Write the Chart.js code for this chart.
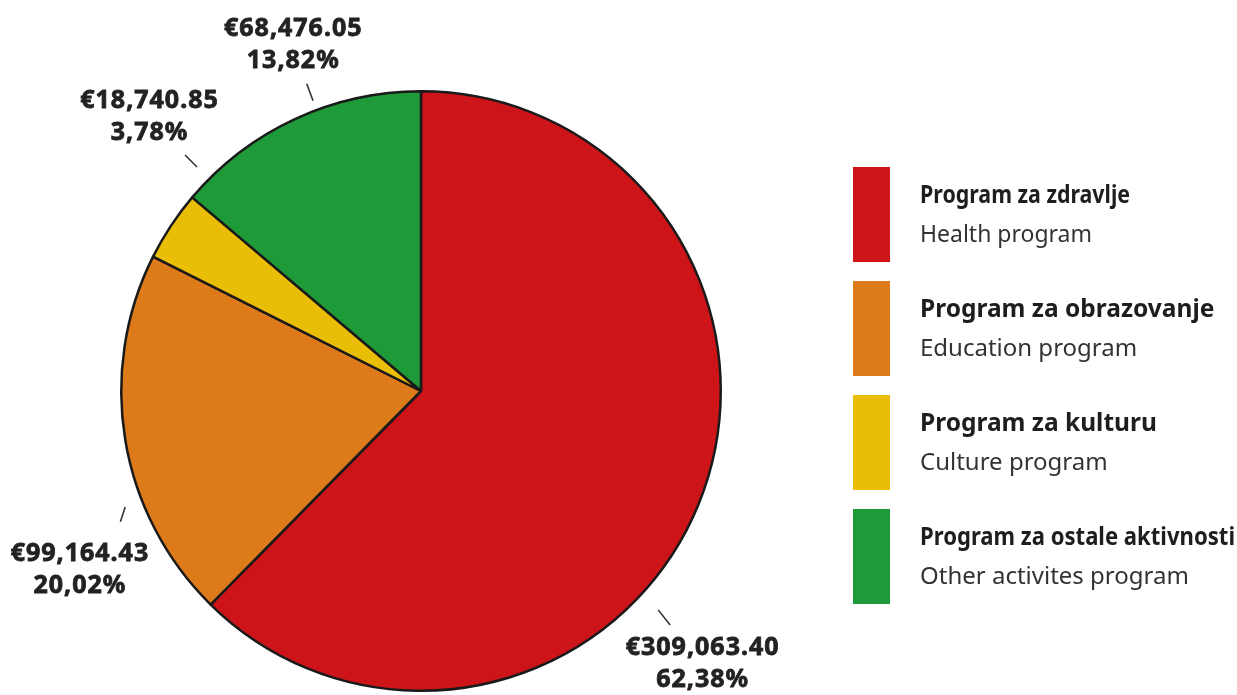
<!DOCTYPE html>
<html>
<head>
<meta charset="utf-8">
<script src="https://cdn.jsdelivr.net/npm/chart.js@4/dist/chart.umd.min.js"></script>
<style>
  html, body { margin: 0; padding: 0; background: #fff; }
  #programi { display: block; }
</style>
</head>
<body>
<canvas id="programi" width="1237" height="695"></canvas>
<script>
// Rashodi po programima (EUR)
const programi = ['Program za zdravlje', 'Program za obrazovanje', 'Program za kulturu', 'Program za ostale aktivnosti'];
const programiEn = ['Health program', 'Education program', 'Culture program', 'Other activites program'];
const iznosi = [309063.40, 99164.43, 18740.85, 68476.05];
const boje = ['#cd1519', '#dd7a1a', '#eabd06', '#1f9a39'];

// Raspored natpisa oko kruga: kutovi crtice (stupnjevi od vrha, u smjeru kazaljke),
// udaljenost krajeva crtice od ruba i pomak sredine teksta od vanjskog kraja crtice
const natpisi = [
    { kut1: 132.7, kut2: 133.2, od: 23, do: 42, dx: 32, dy: 39 },
    { kut1: 248.6, kut2: 246.5, od: 18, do: 28, dx: -41, dy: 48 },
    { kut1: 315, kut2: 315, od: 17, do: 34, dx: -36, dy: -38 },
    { kut1: 339.6, kut2: 339.6, od: 10, do: 28, dx: -14, dy: -39 }
];

// Širine uskog sloga u legendi (null = prirodna širina)
const sirineNaslova = [210, null, null, 315];
const sirinePodnaslova = [172, null, null, null];

const ukupno = iznosi.reduce((a, b) => a + b, 0);
const formatEur = v => '€' + v.toLocaleString('en-US', { minimumFractionDigits: 2, maximumFractionDigits: 2 });
const formatPosto = v => (v * 100).toFixed(2).replace('.', ',') + '%';

function tekst(ctx, s, x, y, sirina) {
    if (sirina) ctx.fillText(s, x, y, sirina);
    else ctx.fillText(s, x, y);
}

// podebljani natpis vrijednosti (ispuna + tanki obrub)
function debeliTekst(ctx, s, x, y) {
    ctx.fillText(s, x, y);
    ctx.strokeText(s, x, y);
}

const natpisiPlugin = {
    id: 'natpisi',
    afterDraw(chart) {
        const ctx = chart.ctx;
        const meta = chart.getDatasetMeta(0);
        const arc0 = meta.data[0];
        const cx = arc0.x, cy = arc0.y, r = arc0.outerRadius;
        const tocka = (kut, d) => {
            const a = kut * Math.PI / 180;
            return [cx + Math.sin(a) * (r + d), cy - Math.cos(a) * (r + d)];
        };
        ctx.save();
        meta.data.forEach((arc, i) => {
            const n = natpisi[i];
            const [x1, y1] = tocka(n.kut1, n.od);
            const [x2, y2] = tocka(n.kut2, n.do);
            ctx.strokeStyle = '#333';
            ctx.lineWidth = 1.6;
            ctx.beginPath();
            ctx.moveTo(x1, y1);
            ctx.lineTo(x2, y2);
            ctx.stroke();

            const tx = x2 + n.dx + 0.5, ty = y2 + n.dy;
            ctx.fillStyle = '#222';
            ctx.strokeStyle = '#222';
            ctx.lineWidth = 0.8;
            ctx.font = '700 25px "Noto Sans"';
            ctx.letterSpacing = '1px';
            ctx.textAlign = 'center';
            ctx.textBaseline = 'middle';
            debeliTekst(ctx, formatEur(iznosi[i]), tx, ty - 16);
            debeliTekst(ctx, formatPosto(iznosi[i] / ukupno), tx, ty + 16);
        });
        ctx.letterSpacing = '0px';

        // Legenda desno
        const lx = 853, ly = 167, korak = 114;
        programi.forEach((naziv, i) => {
            const y = ly + i * korak;
            ctx.fillStyle = boje[i];
            ctx.fillRect(lx, y, 37, 95);
            ctx.textAlign = 'left';
            ctx.textBaseline = 'alphabetic';
            ctx.fillStyle = '#1e1e1e';
            ctx.font = '700 24.5px "Noto Sans"';
            tekst(ctx, naziv, 920, y + 36, sirineNaslova[i]);
            ctx.fillStyle = '#333';
            ctx.font = '400 24px "Noto Sans"';
            tekst(ctx, programiEn[i], 920, y + 75, sirinePodnaslova[i]);
        });
        ctx.restore();
    }
};

new Chart(document.getElementById('programi').getContext('2d'), {
    type: 'pie',
    data: {
        labels: programi,
        datasets: [{
            data: iznosi,
            backgroundColor: boje,
            borderColor: '#1a1a1a',
            borderWidth: 2.5
        }]
    },
    options: {
        responsive: false,
        animation: false,
        layout: { padding: { left: 120, right: 515, top: 89, bottom: 2 } },
        plugins: {
            legend: { display: false },
            tooltip: { enabled: false }
        }
    },
    plugins: [natpisiPlugin]
});
</script>
</body>
</html>
